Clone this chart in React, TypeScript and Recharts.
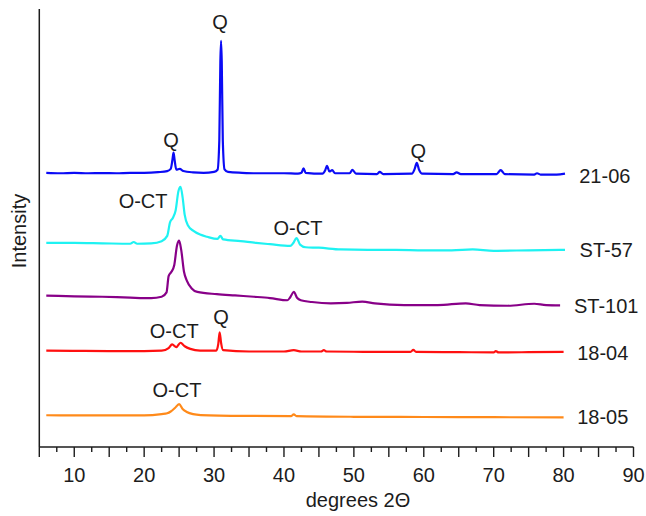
import React from 'react';
import { LineChart, Line, XAxis, YAxis, ReferenceDot, Label } from 'recharts';

// 2θ (degrees) vs offset intensity (arbitrary units, stacked)
const s2106: [number, number][] = [
  [6, 62.6], [8, 62.5], [10, 62.6], [12, 62.5], [14, 62.55], [16, 62.5], [18, 62.6], [20, 62.6],
  [22, 62.75], [23.3, 63.0], [23.8, 63.5], [24.05, 65.6], [24.2, 67.2], [24.35, 65.6], [24.6, 63.3],
  [25.1, 63.5], [25.6, 63.0], [27, 62.7], [28.5, 62.6], [30, 62.8], [30.5, 63.3], [30.75, 70],
  [30.9, 88], [31.0, 92.7], [31.1, 88], [31.25, 70], [31.5, 63.4], [32, 62.8], [34, 62.6], [36, 62.5],
  [38, 62.5], [40, 62.5], [42, 62.4], [42.5, 62.6], [42.8, 63.6], [43.1, 62.6], [45.5, 62.4],
  [45.9, 63.2], [46.15, 64.2], [46.5, 62.9], [46.9, 63.2], [47.3, 62.5], [49.4, 62.5], [49.8, 63.3],
  [50.3, 62.4], [53.3, 62.3], [53.7, 62.8], [54.2, 62.3], [58.3, 62.4], [58.7, 63.5], [59.0, 64.9],
  [59.3, 63.4], [59.8, 62.4], [64.2, 62.3], [64.7, 62.7], [65.3, 62.3], [70.4, 62.3], [71.0, 63.2],
  [71.6, 62.3], [75.8, 62.2], [76.2, 62.5], [76.7, 62.2], [79, 62.2], [80.2, 62.4],
];

const sST57: [number, number][] = [
  [6, 46.6], [10, 46.6], [14, 46.5], [18, 46.4], [18.5, 46.8], [19, 46.4], [21, 46.5], [22.5, 47.0],
  [23.3, 48.2], [23.7, 51.3], [24.1, 52.3], [24.5, 54.0], [24.9, 58.4], [25.2, 59.4], [25.5, 57],
  [25.8, 53], [26.3, 50.5], [27, 49.4], [28, 48.5], [29, 48.0], [30.5, 47.5], [30.9, 48.2],
  [31.3, 47.4], [33.8, 47.0], [36, 46.6], [38, 46.3], [40.9, 45.9], [41.3, 46.5], [41.8, 47.7],
  [42.3, 46.2], [43.1, 45.6], [45, 45.5], [48.1, 45.1], [52, 45.0], [56, 45.0], [60, 44.9],
  [64, 44.9], [67, 45.1], [70, 44.8], [75, 44.9], [80.2, 45.0],
];

const sST101: [number, number][] = [
  [6, 34.55], [10, 34.4], [14, 34.3], [18, 34.1], [21, 34.0], [22.5, 34.3], [23.2, 35.3],
  [23.5, 39.0], [23.9, 40.0], [24.3, 41.5], [24.7, 46], [25.0, 47.1], [25.3, 45], [25.7, 40],
  [26.1, 38], [26.8, 36.2], [27.6, 35.4], [30.4, 34.9], [33, 34.6], [35.7, 34.3], [38, 34.0],
  [40.5, 33.5], [40.9, 34.2], [41.4, 35.4], [41.9, 34.0], [42.4, 33.5], [44, 33.1], [46.7, 32.8],
  [49, 32.9], [51.2, 33.2], [53, 32.8], [57.2, 32.4], [62, 32.4], [66, 32.8], [68, 32.4],
  [72, 32.25], [75.8, 32.7], [77.5, 32.4], [79.5, 32.35],
];

const s1804: [number, number][] = [
  [6, 22.0], [10, 21.95], [15, 21.9], [20, 21.9], [22.5, 22.0], [23.5, 22.6], [24.0, 23.45],
  [24.6, 22.8], [25.2, 23.8], [25.8, 23.0], [26.6, 22.4], [28, 22.0], [30.3, 22.0], [30.6, 23.5],
  [30.8, 26.2], [31.0, 23.8], [31.3, 22.1], [35, 21.8], [40, 21.8], [41.4, 22.1], [42.5, 21.8],
  [45.3, 21.8], [45.7, 22.1], [46.1, 21.8], [50, 21.75], [55, 21.7], [58.1, 21.7], [58.5, 22.2],
  [58.9, 21.7], [65, 21.65], [70, 21.6], [70.3, 21.9], [70.7, 21.6], [75, 21.65], [80, 21.7],
];

const s1805: [number, number][] = [
  [6, 7.25], [10, 7.2], [15, 7.2], [20, 7.2], [22.5, 7.5], [23.3, 7.7], [23.8, 8.1], [24.4, 8.9],
  [25.0, 9.8], [25.5, 8.7], [26.1, 8.0], [27, 7.5], [28.1, 7.3], [35, 7.1], [41, 7.05], [41.4, 7.45],
  [41.8, 7.05], [50, 6.9], [60, 6.85], [70, 6.8], [80, 6.75],
];

const sampleNames = ['21-06', 'ST-57', 'ST-101', '18-04', '18-05'];
const sampleColors = ['#0b0bf5', '#1ef2f2', '#880088', '#ff1010', '#ff8a1a'];
const sampleSeries = [s2106, sST57, sST101, s1804, s1805];
// where the sample name sits, in data units
const nameAnchors: [number, number][] = [[85.9, 62.0], [86.1, 44.9], [86.1, 32.3], [85.6, 21.5], [85.6, 6.85]];

const peakLabels = [
  { text: 'Q', x: 30.85, y: 97.0 },
  { text: 'Q', x: 23.85, y: 70.2 },
  { text: 'Q', x: 59.2, y: 67.6 },
  { text: 'O-CT', x: 19.85, y: 56.3 },
  { text: 'O-CT', x: 42.0, y: 50.1 },
  { text: 'O-CT', x: 24.3, y: 26.6 },
  { text: 'Q', x: 31.0, y: 29.7 },
  { text: 'O-CT', x: 24.7, y: 13.1 },
];

const xTicks = [5, 7.5, 10, 12.5, 15, 17.5, 20, 22.5, 25, 27.5, 30, 32.5, 35, 37.5, 40, 42.5, 45, 47.5,
  50, 52.5, 55, 57.5, 60, 62.5, 65, 67.5, 70, 72.5, 75, 77.5, 80, 82.5, 85, 87.5, 90];

const FONT = '"Liberation Sans", Arial, sans-serif';
const INK = '#1c1c1c';

const XTick = (props: any) => {
  const { x, y, payload } = props;
  const v = payload.value;
  const major = v % 5 === 0;
  return (
    <g>
      <line x1={x} y1={y} x2={x} y2={y + (major ? 10 : 5)} stroke={INK} strokeWidth={1.4} />
      {v % 10 === 0 && (
        <text x={x} y={y + 35} textAnchor="middle" fontSize={20} fontFamily={FONT} fill={INK}>
          {v}
        </text>
      )}
    </g>
  );
};

export default function App() {
  return (
    <div style={{ position: 'absolute', left: 0, top: 0, width: 646, height: 516, background: '#fff' }}>
      <LineChart width={646} height={516} margin={{ top: 9, right: 12.5, left: 0, bottom: 0 }}>
        <XAxis
          type="number"
          dataKey="x"
          domain={[5, 90]}
          ticks={xTicks}
          interval={0}
          allowDataOverflow
          tickSize={0}
          tickMargin={0}
          tickLine={false}
          tick={<XTick />}
          height={69}
          axisLine={{ stroke: INK, strokeWidth: 1.5 }}
        >
          <Label
            content={() => (
              <text x={358} y={507} textAnchor="middle" fontSize={20} fontFamily={FONT} fill={INK}>
                degrees 2Θ
              </text>
            )}
          />
        </XAxis>
        <YAxis
          type="number"
          domain={[0, 100]}
          allowDataOverflow
          width={39.3}
          tick={false}
          tickLine={false}
          axisLine={{ stroke: INK, strokeWidth: 1.5 }}
        >
          <Label
            content={() => (
              <text
                x={26}
                y={231}
                transform="rotate(-90 26 231)"
                textAnchor="middle"
                fontSize={20}
                fontFamily={FONT}
                fill={INK}
              >
                Intensity
              </text>
            )}
          />
        </YAxis>
        {sampleSeries.map((s, i) => (
          <Line
            key={sampleNames[i]}
            data={s.map(([x, y]) => ({ x, y }))}
            dataKey="y"
            type="monotone"
            stroke={sampleColors[i]}
            strokeWidth={2.2}
            dot={false}
            activeDot={false}
            isAnimationActive={false}
          />
        ))}
        {peakLabels.map((p, i) => (
          <ReferenceDot
            key={`pk-${i}`}
            x={p.x}
            y={p.y}
            r={0}
            fill="none"
            stroke="none"
            label={{ value: p.text, position: 'center', fontSize: 20, fontFamily: FONT, fill: INK }}
          />
        ))}
        {sampleNames.map((n, i) => (
          <ReferenceDot
            key={`nm-${n}`}
            x={nameAnchors[i][0]}
            y={nameAnchors[i][1]}
            r={0}
            fill="none"
            stroke="none"
            label={{ value: n, position: 'center', fontSize: 20, fontFamily: FONT, fill: INK }}
          />
        ))}
      </LineChart>
    </div>
  );
}
